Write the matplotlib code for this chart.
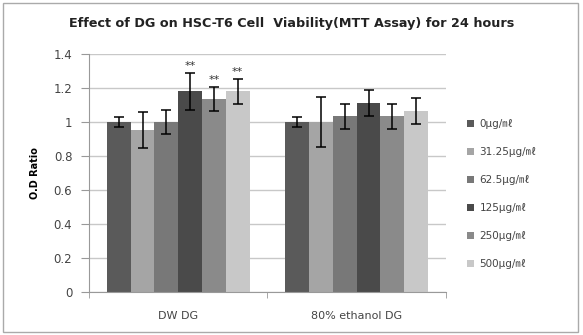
import numpy as np
import matplotlib
matplotlib.use('Agg')
import matplotlib.pyplot as plt
from matplotlib.patches import Rectangle

plt.rcParams['font.family'] = ['DejaVu Sans', 'Noto Sans CJK KR']

groups = ['DW DG', '80% ethanol DG']
doses = ['0μg/㎖', '31.25μg/㎖', '62.5μg/㎖', '125μg/㎖', '250μg/㎖', '500μg/㎖']
colors = ['#5a5a5a', '#a5a5a5', '#787878', '#4a4a4a', '#8a8a8a', '#c8c8c8']

# values per dose: [DW DG, 80% ethanol DG]
means = [
    [1.00, 1.00],
    [0.955, 1.00],
    [1.00, 1.035],
    [1.18, 1.11],
    [1.135, 1.035],
    [1.18, 1.065],
]
errs = [
    [0.03, 0.03],
    [0.107, 0.145],
    [0.07, 0.074],
    [0.107, 0.076],
    [0.07, 0.074],
    [0.072, 0.074],
]
stars = [
    ['', ''],
    ['', ''],
    ['', ''],
    ['**', ''],
    ['**', ''],
    ['**', ''],
]

fig = plt.figure(figsize=(5.83, 3.35), dpi=100)
ax = fig.add_axes([0.1527, 0.127, 0.612, 0.712])

x = np.arange(len(groups))
w = 0.8 / len(doses)
for i in range(len(doses)):
    pos = x - 0.4 + w * (i + 0.5)
    ax.bar(pos, means[i], w, color=colors[i], label=doses[i], zorder=2)
    ax.errorbar(pos, means[i], yerr=errs[i], fmt='none', ecolor='black',
                elinewidth=1.1, capsize=3.8, capthick=1.1, zorder=3)
    for j in range(len(groups)):
        if stars[i][j]:
            ax.text(pos[j], means[i][j] + errs[i][j] + 0.01, stars[i][j],
                    ha='center', va='bottom', fontsize=8, color='#333333')

ax.set_xlim(-0.5, 1.5)
ax.set_ylim(0, 1.4)
ax.set_yticks(np.arange(0, 1.41, 0.2))
ax.set_yticklabels(['0', '0.2', '0.4', '0.6', '0.8', '1', '1.2', '1.4'])
ax.yaxis.grid(True, color='#c8c8c8', linewidth=1.0, zorder=0)
ax.set_axisbelow(True)
ax.set_xticks(x)
ax.set_xticklabels(groups)
ax.set_xticks([-0.5, 0.5, 1.5], minor=True)
ax.tick_params(axis='x', which='major', length=0, pad=13, labelsize=8, colors='#444444')
ax.tick_params(axis='x', which='minor', length=4, color='#999999')
ax.tick_params(axis='y', length=6, pad=6, color='#999999', labelsize=8.5, labelcolor='#444444')
for s in ['top', 'right']:
    ax.spines[s].set_visible(False)
for s in ['left', 'bottom']:
    ax.spines[s].set_color('#999999')

ax.set_ylabel('O.D Ratio', fontsize=7, fontweight='bold', labelpad=10)
fig.suptitle('Effect of DG on HSC-T6 Cell  Viability(MTT Assay) for 24 hours',
             x=0.5, y=0.95, fontsize=9.2, fontweight='bold', color='#222222')

leg = ax.legend(loc='upper left', bbox_to_anchor=(0.785, 0.672),
                bbox_transform=fig.transFigure, frameon=False, fontsize=7.5,
                handlelength=0.7, handleheight=0.7, handletextpad=0.5,
                labelspacing=1.73, labelcolor='#444444')

fig.patches.append(Rectangle((0.006, 0.008), 0.986, 0.982, transform=fig.transFigure,
                             fill=False, edgecolor='#aaaaaa', linewidth=1.0))

fig.savefig('out.png', dpi=100)
